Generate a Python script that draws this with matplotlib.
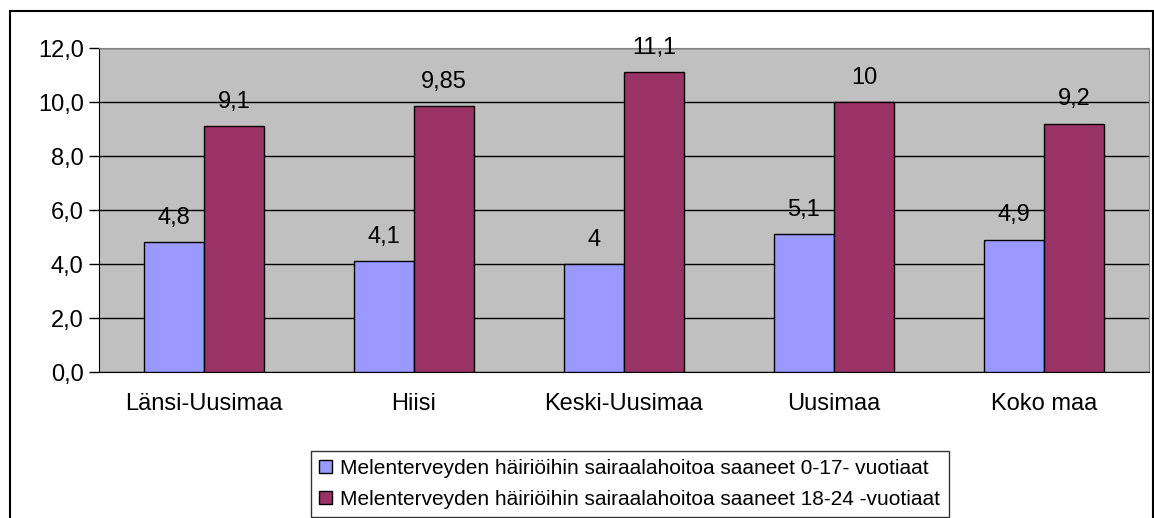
import matplotlib.pyplot as plt
from matplotlib.patches import Rectangle
import numpy as np

plt.rcParams['font.family'] = ['Liberation Sans', 'DejaVu Sans']

regions = ['Länsi-Uusimaa', 'Hiisi', 'Keski-Uusimaa', 'Uusimaa', 'Koko maa']
young = [4.8, 4.1, 4.0, 5.1, 4.9]
older = [9.1, 9.85, 11.1, 10.0, 9.2]
young_labels = ['4,8', '4,1', '4', '5,1', '4,9']
older_labels = ['9,1', '9,85', '11,1', '10', '9,2']
series_names = ['Melenterveyden häiriöihin sairaalahoitoa saaneet 0-17- vuotiaat',
                'Melenterveyden häiriöihin sairaalahoitoa saaneet 18-24 -vuotiaat']
yticks = [0, 2, 4, 6, 8, 10, 12]
ytick_labels = ['0,0', '2,0', '4,0', '6,0', '8,0', '10,0', '12,0']

fig = plt.figure(figsize=(11.54, 5.18), dpi=100)
# outer chart frame
fig.patches.append(Rectangle((10 / 1154, -0.02), 1143 / 1154, 1 - 11 / 518 + 0.02,
                             transform=fig.transFigure, fill=False,
                             edgecolor='black', linewidth=1.5))

ax = fig.add_axes([99 / 1154, 146 / 518, 1050 / 1154, 324 / 518])
ax.set_facecolor('#C0C0C0')

x = np.arange(len(regions))
w = 0.286
b1 = ax.bar(x - w / 2, young, w, color='#9999FF', edgecolor='black', linewidth=1, zorder=3)
b2 = ax.bar(x + w / 2, older, w, color='#993366', edgecolor='black', linewidth=1, zorder=3)

for rect, lab in zip(b1, young_labels):
    ax.text(rect.get_x() + rect.get_width() / 2, rect.get_height() + 0.5, lab,
            ha='center', va='bottom', fontsize=17)
for rect, lab in zip(b2, older_labels):
    ax.text(rect.get_x() + rect.get_width() / 2, rect.get_height() + 0.5, lab,
            ha='center', va='bottom', fontsize=17)

ax.set_xlim(-0.5, len(regions) - 0.5)
ax.set_ylim(0, 12)
ax.set_yticks(yticks)
ax.set_yticklabels(ytick_labels, fontsize=17)
ax.set_xticks(x)
ax.set_xticklabels(regions, fontsize=17)
ax.tick_params(axis='x', length=0, pad=15)
ax.tick_params(axis='y', length=7, width=1, direction='out', pad=4)
ax.grid(axis='y', color='black', linewidth=1, zorder=1)
for side in ['top', 'right']:
    ax.spines[side].set_color('#808080')
ax.spines['left'].set_color('black')
ax.spines['bottom'].set_color('black')

leg = fig.legend([b1, b2], series_names, loc='lower left',
                 bbox_to_anchor=(310 / 1154, 0.0), fontsize=15,
                 frameon=True, fancybox=False, edgecolor='black',
                 handlelength=0.6, handleheight=0.6, handletextpad=0.4,
                 borderpad=0.4, labelspacing=0.55, borderaxespad=0.05)
leg.get_frame().set_linewidth(1)

fig.savefig('out.png', dpi=100)
